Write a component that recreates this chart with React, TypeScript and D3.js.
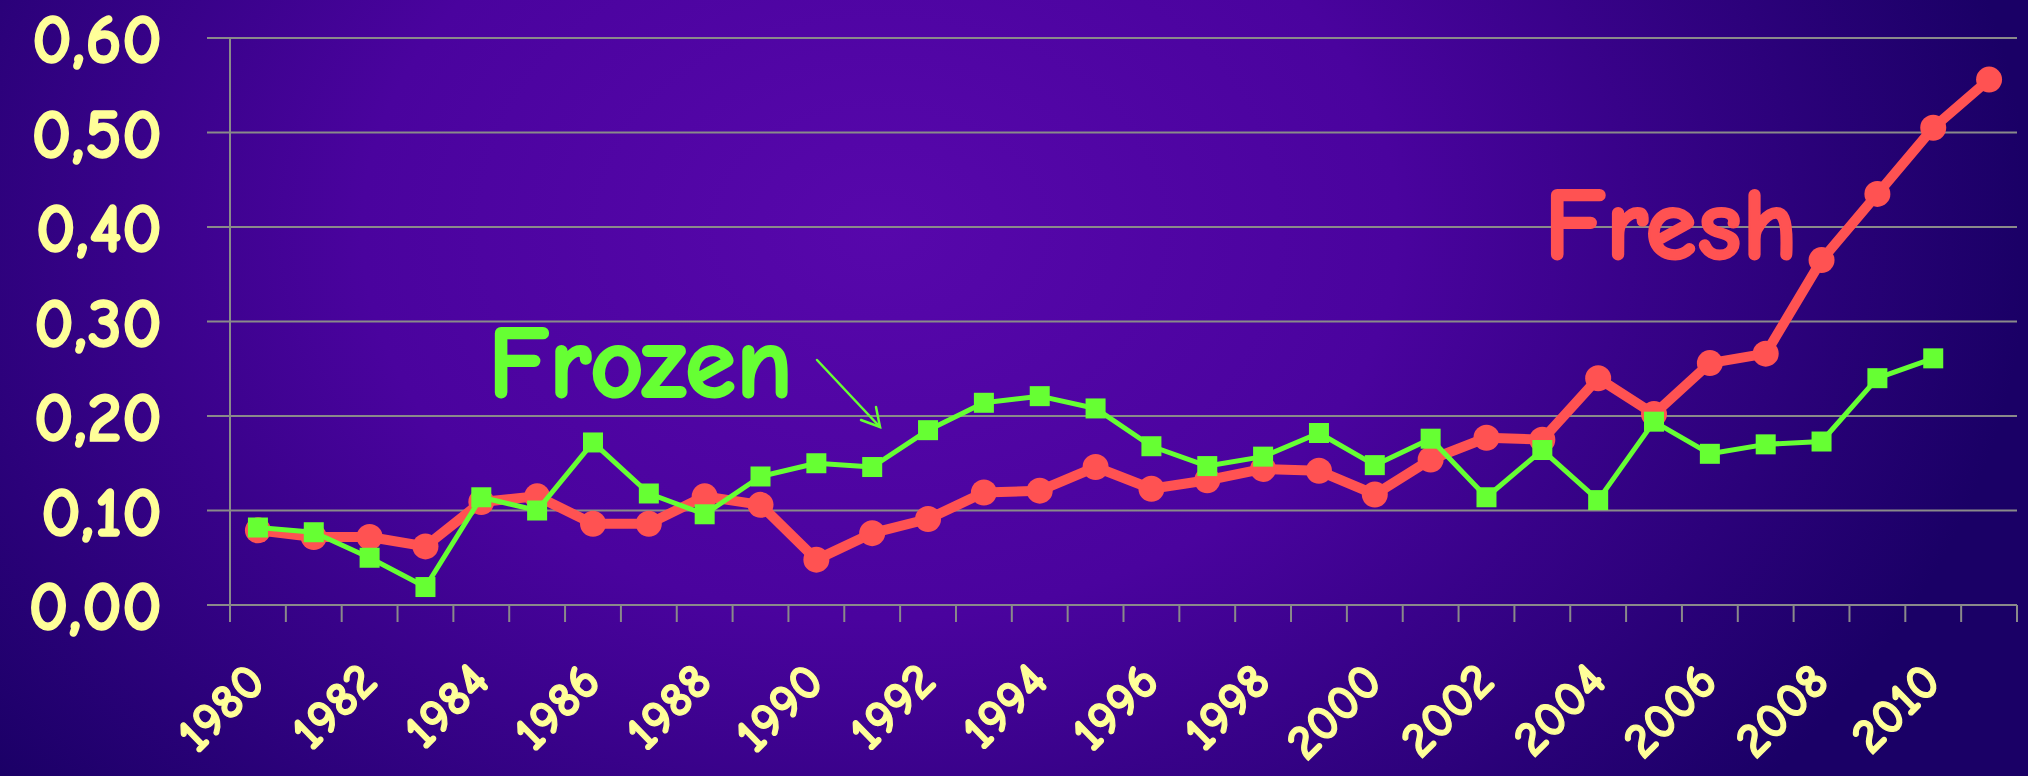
import React from "react";
import * as d3 from "d3";

const years: string[] = [
  "1980","1981","1982","1983","1984","1985","1986","1987","1988","1989",
  "1990","1991","1992","1993","1994","1995","1996","1997","1998","1999",
  "2000","2001","2002","2003","2004","2005","2006","2007","2008","2009",
  "2010","2011",
];
const fresh: number[] = [
  0.079, 0.072, 0.072, 0.062, 0.109, 0.115, 0.086, 0.086, 0.115, 0.106,
  0.048, 0.076, 0.091, 0.119, 0.121, 0.146, 0.123, 0.132, 0.144, 0.142,
  0.117, 0.154, 0.177, 0.175, 0.240, 0.202, 0.256, 0.266, 0.365, 0.435,
  0.505, 0.556,
];
const frozen: number[] = [
  0.082, 0.077, 0.050, 0.019, 0.114, 0.100, 0.172, 0.118, 0.096, 0.136,
  0.150, 0.146, 0.185, 0.214, 0.221, 0.208, 0.168, 0.147, 0.157, 0.182,
  0.148, 0.176, 0.114, 0.164, 0.111, 0.194, 0.160, 0.170, 0.173, 0.240,
  0.261,
];
const yTickValues: number[] = [0, 0.1, 0.2, 0.3, 0.4, 0.5, 0.6];
const xLabelYears: string[] = [
  "1980","1982","1984","1986","1988","1990","1992","1994",
  "1996","1998","2000","2002","2004","2006","2008","2010",
];

const W = 2028;
const H = 776;
const FONT = "'Comic Sans MS', 'Comic Neue', Lato, sans-serif";
const YELLOW = "#FFFF99";
const RED = "#FF5252";
const GREEN = "#66FF33";
const GRID = "#8A8A8A";

export default function App() {
  const left = 230;
  const right = 2017;
  const top = 38;
  const bottom = 605;

  const x = d3.scaleBand<string>().domain(years).range([left, right]).padding(0);
  const y = d3.scaleLinear().domain([0, 0.6]).range([bottom, top]);
  const cx = (yr: string) => (x(yr) as number) + x.bandwidth() / 2;

  const fmt = (v: number) => d3.format(".2f")(v).replace(".", ",");

  const freshLine = d3
    .line<number>()
    .x((_, i) => cx(years[i]))
    .y((d) => y(d));
  const frozenLine = d3
    .line<number>()
    .x((_, i) => cx(years[i]))
    .y((d) => y(d));

  const boundaries = years.map((yr) => x(yr) as number).concat([right]);
  const sq = 20;

  return (
    <svg
      width={W}
      height={H}
      viewBox={`0 0 ${W} ${H}`}
      style={{ position: "absolute", left: 0, top: 0, display: "block" }}
    >
      <defs>
        <radialGradient
          id="bg"
          gradientUnits="userSpaceOnUse"
          cx={880}
          cy={230}
          r={1150}
          gradientTransform="translate(880 230) scale(1 0.75) translate(-880 -230)"
        >
          <stop offset="0" stopColor="#5707AB" />
          <stop offset="0.45" stopColor="#4A039E" />
          <stop offset="1" stopColor="#1A0066" />
        </radialGradient>
      </defs>
      <rect x={0} y={0} width={W} height={H} fill="url(#bg)" />

      {/* gridlines */}
      {yTickValues.map((v) => (
        <line
          key={"g" + v}
          x1={207}
          x2={right}
          y1={y(v)}
          y2={y(v)}
          stroke={GRID}
          strokeWidth={2}
        />
      ))}
      {/* y axis */}
      <line x1={left} x2={left} y1={top} y2={622} stroke={GRID} strokeWidth={2} />
      {/* x ticks */}
      {boundaries.map((b, i) => (
        <line key={"t" + i} x1={b} x2={b} y1={bottom} y2={622} stroke={GRID} strokeWidth={2} />
      ))}

      {/* y labels */}
      {yTickValues.map((v) => (
        <text
          key={"yl" + v}
          x={162}
          y={y(v)}
          dy="0.36em"
          textAnchor="end"
          fontFamily={FONT}
          fontWeight="bold"
          fontSize={70}
          fill={YELLOW}
          stroke={YELLOW}
          strokeWidth={1.5}
        >
          {fmt(v)}
        </text>
      ))}

      {/* x labels */}
      {xLabelYears.map((yr) => {
        const ax = cx(yr) + 10;
        const ay = 684;
        return (
          <text
            key={"xl" + yr}
            x={ax}
            y={ay}
            transform={`rotate(-45 ${ax} ${ay})`}
            textAnchor="end"
            fontFamily={FONT}
            fontWeight="bold"
            fontSize={50}
            fill={YELLOW}
            stroke={YELLOW}
            strokeWidth={1.2}
          >
            {yr}
          </text>
        );
      })}

      {/* Fresh series */}
      <path
        d={freshLine(fresh) || ""}
        fill="none"
        stroke={RED}
        strokeWidth={10}
        strokeLinejoin="round"
      />
      {fresh.map((v, i) => (
        <circle key={"fc" + i} cx={cx(years[i])} cy={y(v)} r={13} fill={RED} />
      ))}

      {/* Frozen series */}
      <path
        d={frozenLine(frozen) || ""}
        fill="none"
        stroke={GREEN}
        strokeWidth={5}
        strokeLinejoin="round"
      />
      {frozen.map((v, i) => (
        <rect
          key={"zr" + i}
          x={cx(years[i]) - sq / 2}
          y={y(v) - sq / 2}
          width={sq}
          height={sq}
          fill={GREEN}
        />
      ))}

      {/* annotations */}
      <text
        x={488}
        y={397}
        fontFamily={FONT}
        fontWeight="bold"
        fontSize={104}
        fill={GREEN}
        stroke={GREEN}
        strokeWidth={2}
        textLength={305}
        lengthAdjust="spacingAndGlyphs"
      >
        Frozen
      </text>
      <g stroke={GREEN} strokeWidth={2.5} fill="none" strokeLinecap="round">
        <line x1={817} y1={360} x2={880} y2={427} />
        <polyline points="861,420 880,427 876,407" />
      </g>
      <text
        x={1544}
        y={259}
        fontFamily={FONT}
        fontWeight="bold"
        fontSize={104}
        fill={RED}
        stroke={RED}
        strokeWidth={2}
        textLength={254}
        lengthAdjust="spacingAndGlyphs"
      >
        Fresh
      </text>
    </svg>
  );
}
